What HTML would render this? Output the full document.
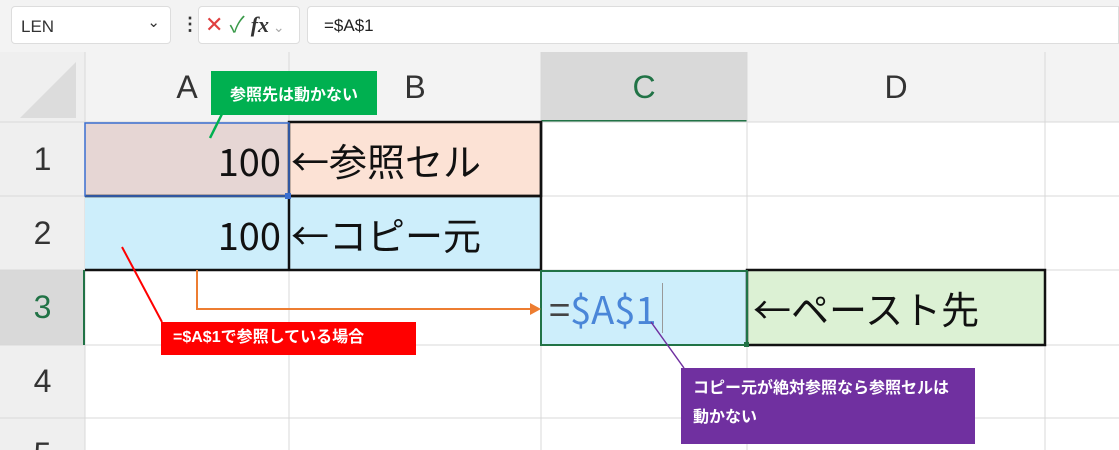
<!DOCTYPE html>
<html><head><meta charset="utf-8"><style>
html,body{margin:0;width:1119px;height:450px;overflow:hidden}
body{background:#fff;font-family:"Liberation Sans","Noto Sans CJK JP",sans-serif;position:relative}
.a{position:absolute;box-sizing:border-box}
.hd{position:absolute;display:flex;align-items:center;justify-content:center;color:#333;font-size:32px;overflow:hidden}
.cell{position:absolute;box-sizing:border-box;display:flex;align-items:center;font-size:38px;color:#111;font-family:"Noto Sans CJK JP","Liberation Sans",sans-serif;font-weight:400;overflow:hidden}
</style></head><body>
<div class="a" style="left:0;top:0;width:1119px;height:122px;background:#f3f3f3"></div>
<div class="a" style="left:11px;top:6px;width:160px;height:38px;background:#fff;border:1px solid #ddd;border-radius:4px;font-size:17px;color:#333;padding:10px 0 0 9px">LEN<span style="position:absolute;right:10px;top:6px;font-size:15px">⌄</span></div>
<div class="a" style="left:181px;top:14px;font-size:18px;line-height:20px;color:#333;font-weight:bold">⋮</div>
<div class="a" style="left:198px;top:6px;width:102px;height:38px;background:#fff;border:1px solid #ddd;border-radius:4px;font-size:22px;line-height:26px;padding:5px 0 0 6px;overflow:hidden;white-space:nowrap"><span style="color:#e04040">✕</span> <span style="color:#3a9a4a">✓</span> <i style="font-family:'Liberation Serif',serif;font-weight:bold;color:#333">fx</i><span style="color:#aaa;font-size:14px"> ⌄</span></div>
<div class="a" style="left:307px;top:6px;width:812px;height:38px;background:#fff;border:1px solid #ddd;border-radius:4px 0 0 4px;font-size:17px;color:#222;padding:9px 0 0 16px">=$A$1</div>
<div class="a" style="left:0;top:52px;width:85px;height:70px;background:#efefef"></div>
<svg class="a" style="left:0;top:52px" width="85" height="70"><polygon points="20,66 76,66 76,10" fill="#dcdcdc"/></svg>
<div class="hd" style="left:85px;top:52px;width:204px;height:70px">A</div>
<div class="hd" style="left:289px;top:52px;width:252px;height:70px">B</div>
<div class="a" style="left:541px;top:52px;width:206px;height:70px;background:#d9d9d9;border-bottom:2px solid #217346"></div>
<div class="hd" style="left:541px;top:52px;width:206px;height:70px;color:#217346">C</div>
<div class="hd" style="left:747px;top:52px;width:298px;height:70px">D</div>
<div class="a" style="left:0;top:122px;width:85px;height:328px;background:#efefef"></div>
<div class="a" style="left:0;top:270px;width:85px;height:75px;background:#d9d9d9;border-right:2px solid #217346"></div>
<div class="hd" style="left:0;top:122px;width:85px;height:74px">1</div>
<div class="hd" style="left:0;top:196px;width:85px;height:74px">2</div>
<div class="hd" style="left:0;top:270px;width:85px;height:75px;color:#217346">3</div>
<div class="hd" style="left:0;top:345px;width:85px;height:73px">4</div>
<div class="hd" style="left:0;top:418px;width:85px;height:32px;align-items:flex-start;line-height:36px;padding-top:18px;box-sizing:border-box">5</div>
<svg class="a" style="left:0;top:52px" width="1119" height="398">
<g stroke="#d8d8d8" stroke-width="1">
<line x1="85" y1="0" x2="85" y2="398"/><line x1="289" y1="0" x2="289" y2="398"/><line x1="541" y1="0" x2="541" y2="398"/><line x1="747" y1="0" x2="747" y2="398"/><line x1="1045" y1="0" x2="1045" y2="398"/>
<line x1="0" y1="70" x2="1119" y2="70"/><line x1="0" y1="144" x2="1119" y2="144"/><line x1="0" y1="218" x2="1119" y2="218"/><line x1="0" y1="293" x2="1119" y2="293"/><line x1="0" y1="366" x2="1119" y2="366"/>
</g></svg>
<div class="cell" style="left:85px;top:123px;width:204px;height:73px;background:#e6d6d4;justify-content:flex-end;padding-right:8px">100</div>
<div class="cell" style="left:289px;top:123px;width:252px;height:73px;background:#fce2d5;padding-left:2px">←参照セル</div>
<div class="cell" style="left:85px;top:196px;width:204px;height:74px;background:#cdeefb;justify-content:flex-end;padding-right:8px">100</div>
<div class="cell" style="left:289px;top:196px;width:252px;height:74px;background:#cdeefb;padding-left:2px">←コピー元</div>
<div class="cell" style="left:541px;top:270px;width:206px;height:75px;background:#cdeefb;padding-left:8px;color:#4a86d8"><span style="color:#444">=</span>$A$1<span style="display:inline-block;width:1px;height:50px;background:#999;margin-left:6px"></span></div>
<div class="cell" style="left:747px;top:270px;width:298px;height:75px;background:#dcf1d4;padding-left:6px">←ペースト先</div>
<svg class="a" style="left:0;top:0" width="1119" height="450">
<g stroke="#111" stroke-width="2.5" fill="none">
<rect x="289" y="122" width="252" height="74"/>
<line x1="85" y1="196" x2="541" y2="196"/><line x1="85" y1="270" x2="541" y2="270"/><line x1="289" y1="196" x2="289" y2="270"/>
<rect x="747" y="270" width="298" height="75"/>
<line x1="541" y1="122" x2="541" y2="270"/>
</g>
<rect x="85" y="123" width="204" height="73" fill="none" stroke="#3a6fd0" stroke-width="1.5"/>
<rect x="541" y="271" width="206" height="74" fill="none" stroke="#217346" stroke-width="2"/>
<line x1="84" y1="270" x2="84" y2="345" stroke="#217346" stroke-width="2"/>
<rect x="744" y="342" width="5" height="5" fill="#217346"/>
<rect x="285" y="193" width="6" height="6" fill="#3a6fd0"/>
<polyline points="197,270 197,309 530,309" fill="none" stroke="#ed7d31" stroke-width="2"/>
<polygon points="530,303 541,309 530,315" fill="#ed7d31"/>
<line x1="122" y1="247" x2="162" y2="322" stroke="#f00" stroke-width="2"/>
<line x1="210" y1="138" x2="222" y2="114" stroke="#00b050" stroke-width="2.5"/>
<line x1="651" y1="322" x2="684" y2="368" stroke="#7030a0" stroke-width="1.5"/>
</svg>
<div class="a" style="left:211px;top:71px;width:166px;height:44px;background:#00b050;color:#fff;font-weight:bold;font-size:16px;display:flex;align-items:center;justify-content:center">参照先は動かない</div>
<div class="a" style="left:161px;top:322px;width:255px;height:33px;background:#ff0000;color:#fff;font-weight:bold;font-size:16px;line-height:22px;padding:5px 0 0 12px">=$A$1で参照している場合</div>
<div class="a" style="left:681px;top:368px;width:294px;height:76px;background:#7030a0;color:#fff;font-weight:bold;font-size:16px;line-height:29px;padding:6px 0 0 12px;overflow:hidden">コピー元が絶対参照なら参照セルは<br>動かない</div>
</body></html>
